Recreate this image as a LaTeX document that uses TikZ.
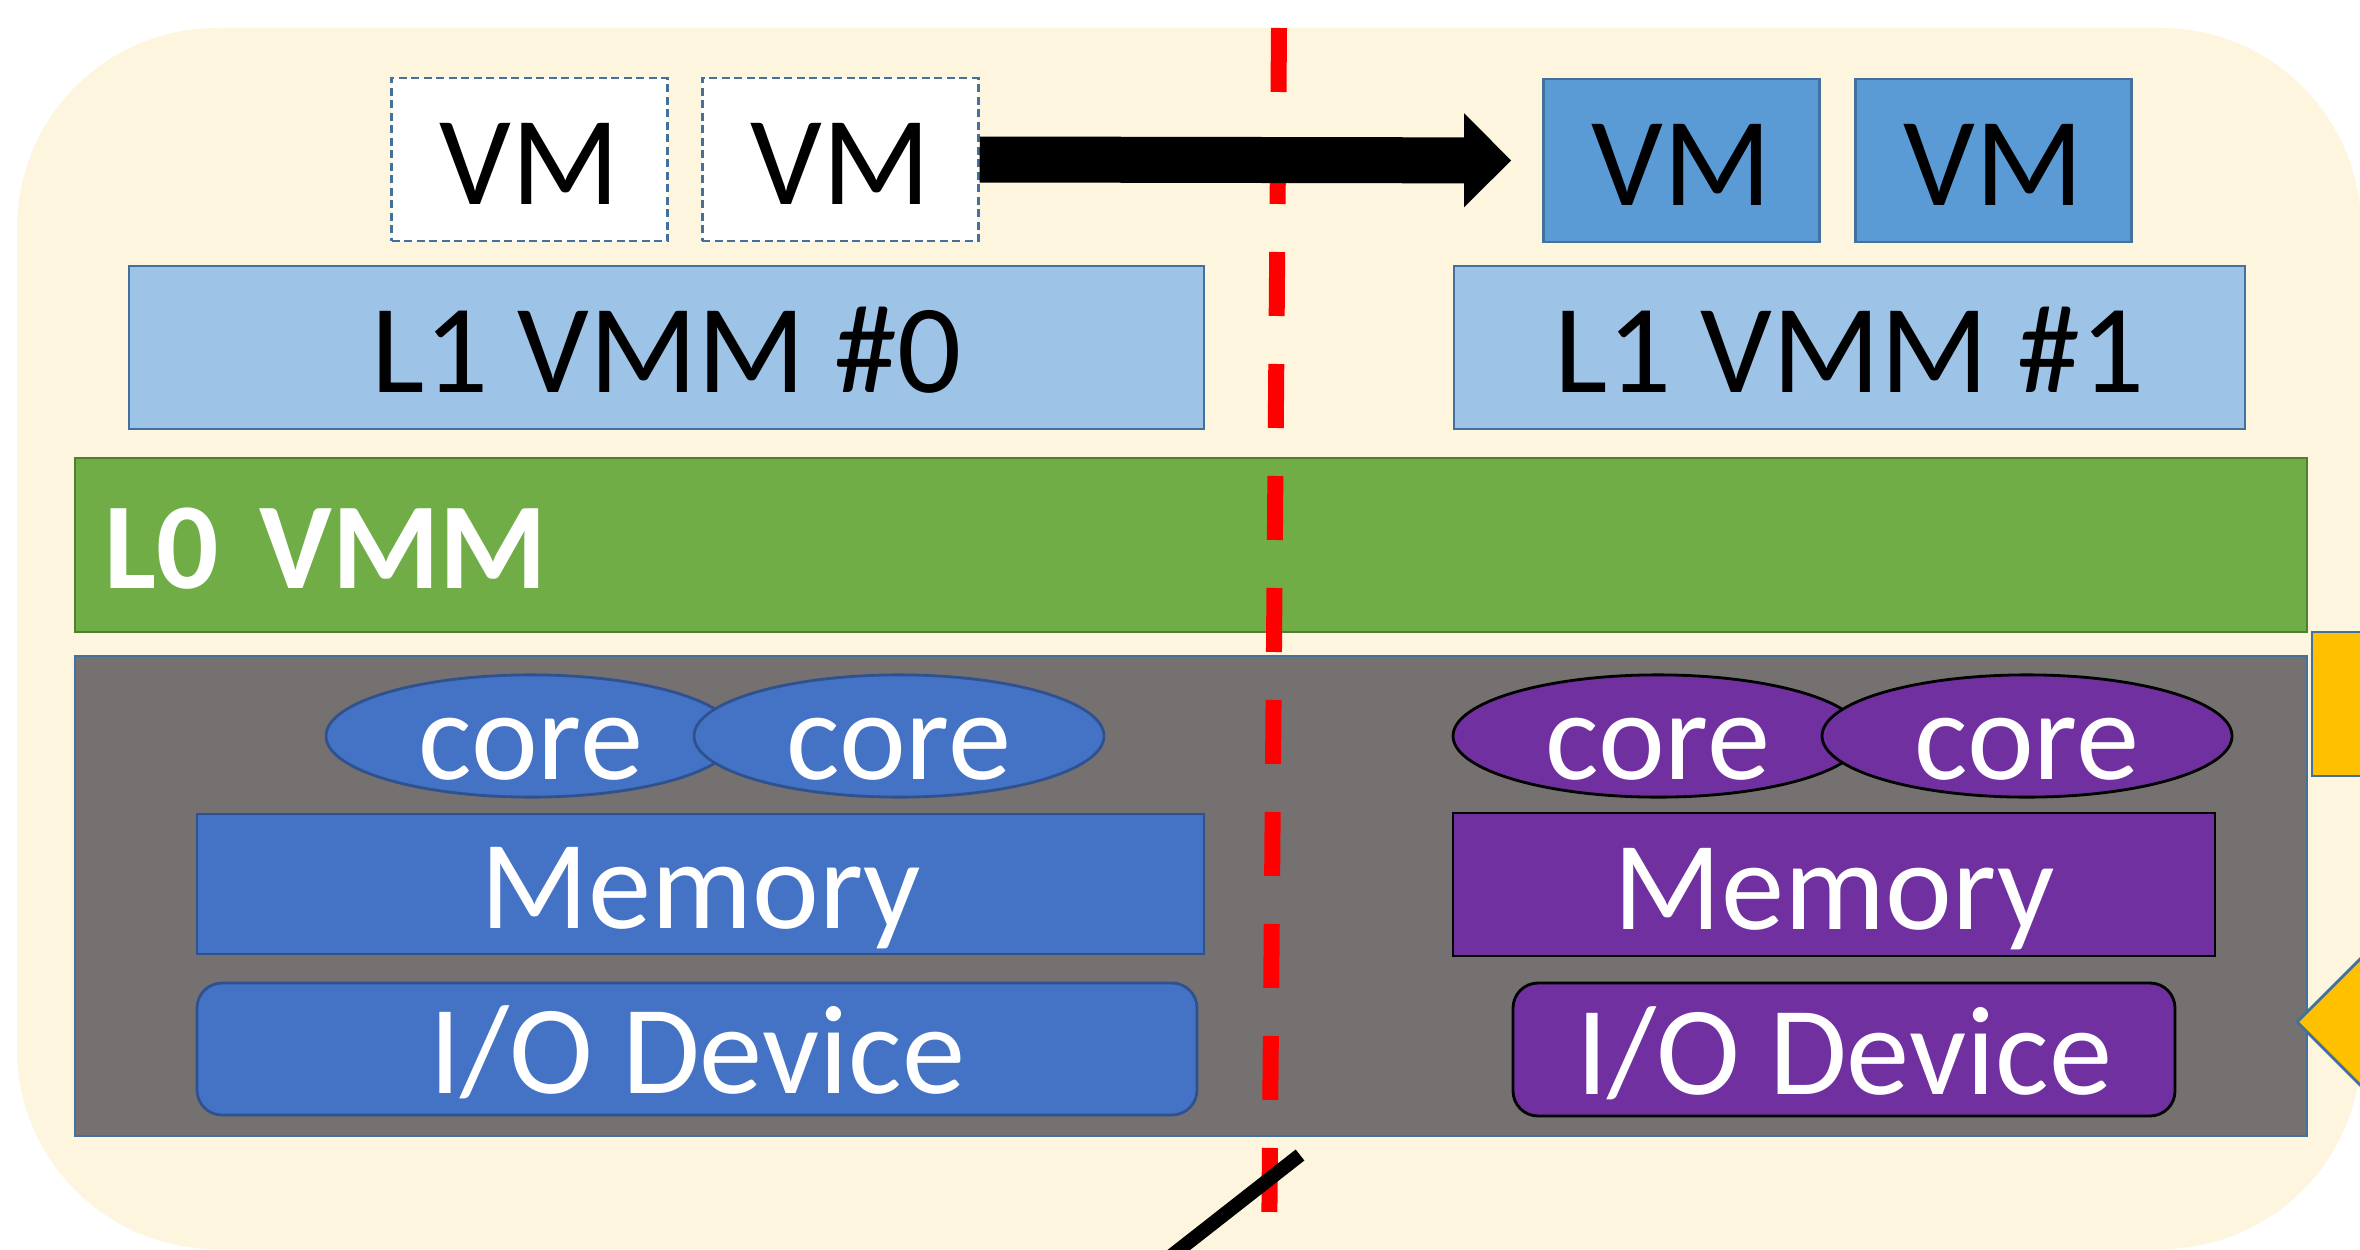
\documentclass[tikz,border=0pt]{standalone}
\usepackage{fontspec}
\setmainfont{Carlito}
\usepackage{xcolor}
\usepackage{tikz}
\usetikzlibrary{arrows.meta, positioning, shapes.geometric, calc}
\definecolor{bgcream}{HTML}{FEF5DE}
\definecolor{frameblue}{HTML}{41719C}
\definecolor{vmblue}{HTML}{5B9BD5}
\definecolor{vmmblue}{HTML}{9DC3E6}
\definecolor{lzerogreen}{HTML}{70AD47}
\definecolor{lzeroedge}{HTML}{507E32}
\definecolor{hwgray}{HTML}{767171}
\definecolor{hwblue}{HTML}{4472C4}
\definecolor{hwblueedge}{HTML}{2F528F}
\definecolor{hwpurple}{HTML}{7030A0}
\definecolor{migorange}{HTML}{FFC000}

\begin{document}
\begin{tikzpicture}[x=0.1mm, y=-0.1mm,
  big/.style={font=\fontsize{36}{43}\selectfont, text height=25.5pt, text depth=0pt, inner sep=0pt},
  vmghost/.style={big, draw=frameblue, line width=0.8pt, dash pattern=on 0.8mm off 0.45mm, fill=white, minimum width=27.6mm, minimum height=16.3mm},
  vmbox/.style={big, draw=frameblue, line width=0.8pt, fill=vmblue, minimum width=27.6mm, minimum height=16.3mm},
  lonebox/.style={big, draw=frameblue, line width=0.8pt, fill=vmmblue, minimum height=16.3mm},
  corebox/.style={ellipse, font=\fontsize{36}{43}\selectfont, text height=24.6pt, text depth=0pt, inner sep=0pt, text=white, line width=0.8pt, minimum width=41mm, minimum height=12mm},
  hwpart/.style={big, text=white, line width=0.8pt},
  bigarrow/.style={line width=4.6mm, -{Triangle[length=4.7mm, width=9.4mm, line width=0pt]}, shorten >=3.1mm}
]
  \fill[white] (0,0) rectangle (2360,1249);
  \useasboundingbox (0,0) rectangle (2360,1249);
  \clip (0,0) rectangle (2360,1249);
  \fill[bgcream, rounded corners=20mm] (17,28) rectangle (2361,1249);

  % guests and L1 hypervisors
  \node[vmghost] (vmA) at (529.5,159.5) {VM};
  \node[vmghost, right=3.2mm of vmA] (vmB) {VM};
  \node[vmbox] (vmC) at (1681.5,160.5) {VM};
  \node[vmbox, right=3.3mm of vmC] (vmD) {VM};
  \node[lonebox, minimum width=107.5mm] (vmmA) at (666.5,347.5) {L1 VMM \#0};
  \node[lonebox, minimum width=79.1mm] (vmmB) at (1849.5,347.5) {L1 VMM \#1};

  % L0 and hardware
  \node[big, draw=lzeroedge, line width=0.8pt, fill=lzerogreen, text=white, font=\fontsize{35}{42}\selectfont\bfseries, text height=25pt, inner xsep=2.9mm, text width=217.4mm, align=left, minimum height=17.4mm] (vmmZ) at (1191,545) {L0 VMM};
  \node[draw=frameblue, line width=0.8pt, fill=hwgray, minimum width=223.2mm, minimum height=48mm, inner sep=0pt] (hw) at (1191,896) {};

  \node[corebox, draw=hwblueedge, fill=hwblue] (coreA) at (531,736) {core};
  \node[corebox, draw=hwblueedge, fill=hwblue] (coreB) at (899,736) {core};
  \node[corebox, draw=black, fill=hwpurple] (coreC) at (1658,736) {core};
  \node[corebox, draw=black, fill=hwpurple] (coreD) at (2027,736) {core};

  \node[hwpart, draw=hwblueedge, fill=hwblue, minimum width=100.7mm, minimum height=14mm] (memA) at (700.5,884) {Memory};
  \node[hwpart, draw=black, fill=hwpurple, minimum width=76.2mm, minimum height=14.3mm] (memB) at (1834,884.5) {Memory};
  \node[hwpart, draw=hwblueedge, fill=hwblue, rounded corners=2.5mm, minimum width=100mm, minimum height=13.2mm] (ioA) at (697,1049) {I/O Device};
  \node[hwpart, draw=black, fill=hwpurple, rounded corners=2.5mm, minimum width=66.2mm, minimum height=13.3mm] (ioB) at (1844,1049.5) {I/O Device};

  % split line, migration arrow, cut
  \coordinate (splitTop) at (1279,28);
  \coordinate (splitBot) at (1269,1262);
  \draw[red, line width=1.6mm, dash pattern=on 6.4mm off 4.8mm] (splitTop) -- (splitBot);
  \draw[bigarrow] (vmB.east) -- (vmC.west);
  \coordinate (slashTop) at (1300,1155);
  \coordinate (slashEnd) at (1120,1296);
  \draw[line width=1.4mm] (slashTop) -- (slashEnd);

  % shapes at the right edge
  \filldraw[fill=migorange, draw=frameblue, line width=0.8pt] (2312,632) rectangle (2420,776);
  \filldraw[fill=migorange, draw=frameblue, line width=0.8pt] (2297,1022) -- (2420,899) -- (2420,1145) -- cycle;
\end{tikzpicture}
\end{document}
